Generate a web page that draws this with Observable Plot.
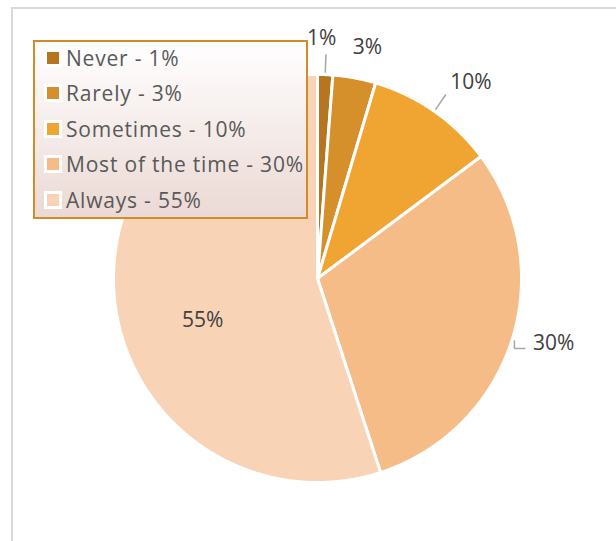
<!DOCTYPE html>
<html><head><meta charset="utf-8">
<script src="https://cdn.jsdelivr.net/npm/d3@7"></script>
<script src="https://cdn.jsdelivr.net/npm/@observablehq/plot@0.6"></script>
<style>
body{margin:0;background:#fff;}
#wrap{position:relative;width:616px;height:541px;overflow:hidden;font-family:"Open Sans",sans-serif;background:#fff;}
#frame{position:absolute;left:11px;top:7px;width:640px;height:580px;border:2px solid #d9d9d9;box-sizing:border-box;}
#chart{position:absolute;left:0;top:0;}
#legend{position:absolute;left:33px;top:40px;width:275px;height:179px;border:2px solid #d38b27;box-sizing:border-box;background:linear-gradient(#ffffff,#ebd9d4);}
.row{display:flex;align-items:center;height:35.5px;color:#595959;font-size:21px;letter-spacing:0.8px;white-space:nowrap;}
.row:first-child{margin-top:-2px;}
.sw{width:12px;height:12px;border:3px solid #fff;margin-left:9px;margin-right:4px;flex:none;}
</style></head>
<body><div id="wrap"><div id="frame"></div><div id="chart"></div><div id="legend"></div></div>
<script>
const categories = ["Never", "Rarely", "Sometimes", "Most of the time", "Always"];
const values = [1.2, 3.4, 10.2, 30.2, 55.0];
const labels = ["1%", "3%", "10%", "30%", "55%"];
const colors = ["#b5761f", "#d58f2b", "#f0a431", "#f5bc88", "#f8d3b5"];

const W = 616, H = 541, cx = 317, cy = 278, R = 204;
const arcs = d3.pie().sort(null).value(d => d)(values);
const pts = [];
arcs.forEach((a, i) => {
  const c = categories[i];
  pts.push({cat: c, x: 0, y: 0});
  const n = Math.max(4, Math.ceil((a.endAngle - a.startAngle) / 0.005));
  for (let k = 0; k <= n; k++) {
    const t = a.startAngle + (a.endAngle - a.startAngle) * k / n;
    pts.push({cat: c, x: Math.sin(t), y: Math.cos(t)});
  }
  pts.push({cat: c, x: 0, y: 0});
});
const mid = a => (a.startAngle + a.endAngle) / 2;
// label placement: radius factor and a small pixel nudge (Excel best-fit)
const labR = [1.18, 1.16, 1.22, 1.2, 0.6];
const nudge = [[-5, 0], [7, -1], [11, -8], [3, 9], [6, -23]];
const labelData = arcs.map((a, i) => {
  const t = mid(a), r = labR[i];
  return {label: labels[i], x: r * Math.sin(t) + nudge[i][0] / R, y: r * Math.cos(t) + nudge[i][1] / R};
});
const leaders = [];
[0, 2].forEach(i => {
  const t = mid(arcs[i]);
  leaders.push({x1: 1.01 * Math.sin(t), y1: 1.01 * Math.cos(t), x2: 1.1 * Math.sin(t), y2: 1.1 * Math.cos(t)});
});
{
  const t = mid(arcs[3]);
  const x0 = 1.013 * Math.sin(t), y0 = 1.0 * Math.cos(t);
  leaders.push({x1: x0, y1: y0, x2: x0, y2: y0 - 0.04});
  leaders.push({x1: x0, y1: y0 - 0.04, x2: x0 + 0.054, y2: y0 - 0.04});
}

const chart = Plot.plot({
  width: W, height: H, margin: 0,
  x: {domain: [-cx / R, (W - cx) / R], axis: null},
  y: {domain: [-(H - cy) / R, cy / R], axis: null},
  color: {domain: categories, range: colors},
  style: {background: "transparent", fontFamily: "'Open Sans', sans-serif"},
  marks: [
    Plot.line(pts, {x: "x", y: "y", z: "cat", fill: "cat", stroke: "#fff", strokeWidth: 3, strokeLinejoin: "round", curve: "linear"}),
    Plot.link(leaders, {x1: "x1", y1: "y1", x2: "x2", y2: "y2", stroke: "#a6a6a6", strokeWidth: 1.5}),
    Plot.text(labelData, {x: "x", y: "y", text: "label", fontSize: 21, fill: "#404040"})
  ]
});
document.getElementById("chart").appendChild(chart);

const leg = d3.select("#legend");
categories.forEach((c, i) => {
  const row = leg.append("div").attr("class", "row");
  row.append("div").attr("class", "sw").style("background", colors[i]);
  row.append("span").text(`${c} - ${labels[i]}`);
});
</script></body></html>
